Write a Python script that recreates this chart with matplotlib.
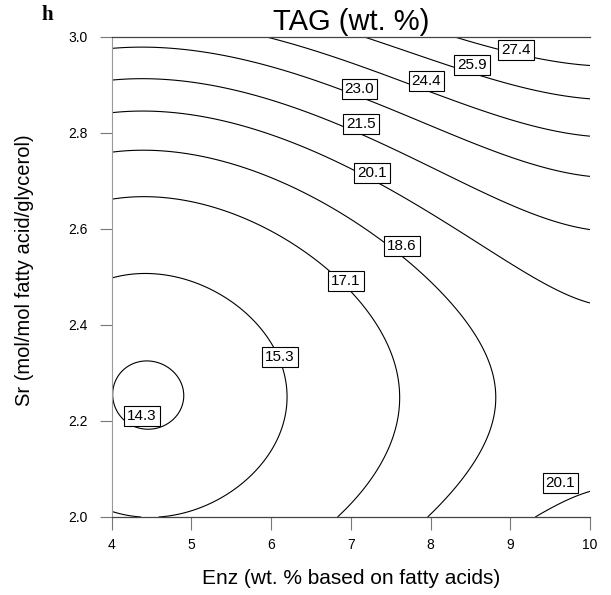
import numpy as np
import matplotlib.pyplot as plt

# contour levels shown on the chart
tag_levels = [14.3, 15.3, 17.1, 18.6, 20.1, 21.5, 23.0, 24.4, 25.9, 27.4]

# points (Enz, Sr, TAG level)
pts_enz = [4.03, 4.44, 4.885, 4.44,
           4.0, 4.44, 5.15, 5.69, 6.0, 6.18, 6.06, 5.81, 5.44, 4.815, 4.08,
           4.0, 4.40, 4.90, 5.23, 5.65, 6.36, 6.77, 7.0, 7.40, 7.61, 7.64, 7.61, 7.36, 7.11, 6.88,
           4.0, 4.75, 5.11, 5.61, 6.19, 6.77, 7.07, 7.69, 8.11, 8.52, 8.77, 8.82, 8.77, 8.52, 8.23, 7.96,
           4.0, 4.81, 5.19, 5.65, 6.11, 6.56, 7.02, 7.34, 7.90, 8.27, 8.94, 9.36, 9.98, 9.36, 9.77, 9.98,
           4.81, 5.23, 5.94, 6.90, 7.19, 7.90, 8.73, 9.36, 9.98,
           4.0, 4.67, 5.23, 5.94, 6.90, 7.19, 7.90, 8.73, 9.36, 9.98,
           6.06, 7.11, 7.69, 8.11, 8.73, 9.36, 9.98,
           7.19, 8.32, 8.65, 9.36, 9.98,
           8.32, 8.81, 9.27, 9.77]
pts_sr = [2.266, 2.322, 2.266, 2.183,
          2.498, 2.509, 2.48, 2.426, 2.363, 2.266, 2.169, 2.093, 2.044, 2.006, 2.008,
          2.665, 2.674, 2.665, 2.651, 2.623, 2.564, 2.516, 2.47, 2.39, 2.308, 2.26, 2.197, 2.106, 2.051, 2.006,
          2.76, 2.765, 2.755, 2.727, 2.689, 2.637, 2.613, 2.54, 2.467, 2.384, 2.308, 2.259, 2.204, 2.113, 2.051, 2.006,
          2.842, 2.843, 2.831, 2.813, 2.786, 2.752, 2.724, 2.696, 2.64, 2.60, 2.537, 2.488, 2.446, 2.006, 2.037, 2.051,
          2.911, 2.897, 2.866, 2.817, 2.797, 2.731, 2.668, 2.637, 2.606,
          2.974, 2.977, 2.967, 2.939, 2.887, 2.869, 2.814, 2.759, 2.731, 2.71,
          2.998, 2.946, 2.911, 2.89, 2.849, 2.814, 2.793,
          2.998, 2.942, 2.922, 2.887, 2.87,
          2.998, 2.97, 2.953, 2.942]
pts_tag = [14.3] * 4 + [15.3] * 11 + [17.1] * 15 + [18.6] * 16 + [20.1] * 16 \
          + [21.5] * 9 + [23.0] * 10 + [24.4] * 7 + [25.9] * 5 + [27.4] * 4

# where the boxed labels sit
label_pos = [(4.38, 2.21), (6.11, 2.334), (6.94, 2.491), (7.64, 2.564),
             (7.27, 2.717), (9.63, 2.07), (7.13, 2.819), (7.11, 2.892),
             (7.95, 2.908), (8.52, 2.942), (9.07, 2.972)]

plt.rcParams['font.family'] = ['Liberation Sans', 'DejaVu Sans']


def basis(x, y):
    u = (np.asarray(x) - 7.0) / 3.0
    v = (np.asarray(y) - 2.5) / 0.5
    return np.stack([np.ones_like(u), u, v, u * u, u * v, v * v,
                     u ** 3, u * u * v, u * v * v, v ** 3, u ** 4, v ** 4], axis=-1)


# response surface fitted to the contour readings (inner rings count more)
tag = np.array(pts_tag)
sr = np.array(pts_sr)
w = np.where(tag < 15, 3.0, np.where(tag < 16, 2.0, 1.0))
w = np.where((tag < 16) & (sr < 2.05), 5.0, w)
coef, *_ = np.linalg.lstsq(basis(pts_enz, pts_sr) * w[:, None], tag * w, rcond=None)

xg = np.linspace(4, 10, 300)
yg = np.linspace(2, 3, 300)
X, Y = np.meshgrid(xg, yg)
Z = basis(X, Y) @ coef

fig = plt.figure(figsize=(6.11, 5.95), dpi=100)
ax = fig.add_axes([111.5 / 611, 1 - 517 / 595, (590 - 111.5) / 611, (517 - 37) / 595])

cs = ax.contour(X, Y, Z, levels=tag_levels, colors='black', linewidths=0.8)
ax.clabel(cs, fmt=lambda v: f'{v:.1f}', fontsize=11, inline=False, manual=label_pos)
for t, pos in zip(cs.labelTexts, label_pos):
    t.set_position(pos)
    t.set_rotation(0)
    t.set_zorder(5)
    t.set_bbox(dict(boxstyle='square,pad=0.2', fc='white', ec='black', lw=0.8))

ax.set_xlim(4, 10)
ax.set_ylim(2, 3)
ax.set_xticks(range(4, 11))
ax.set_yticks(np.arange(2.0, 3.01, 0.2))
ax.set_yticklabels([f'{v:.1f}' for v in np.arange(2.0, 3.01, 0.2)])
ax.tick_params(direction='out', length=9, width=0.8, color='#777777', labelsize=10)
ax.tick_params(axis='x', pad=6)
ax.tick_params(axis='y', pad=8)
for s in ['top', 'bottom']:
    ax.spines[s].set_color('#444444')
    ax.spines[s].set_linewidth(0.9)
ax.spines['left'].set_color('#999999')
ax.spines['right'].set_visible(False)

ax.set_xlabel('Enz (wt. % based on fatty acids)', fontsize=15)
ax.xaxis.set_label_coords(0.5, -(578 - 517) / 480)
ax.set_ylabel('Sr (mol/mol fatty acid/glycerol)', fontsize=14.5)
ax.yaxis.set_label_coords(-(111.5 - 25) / 478.5, (517 - 270) / 480)
ax.xaxis.label.set_va('center')
ax.yaxis.label.set_va('center')
ax.set_title('TAG (wt. %)', fontsize=21, pad=5)
fig.text(47 / 611, 1 - 15 / 595, 'h', fontsize=15, fontweight='bold',
         family='Liberation Serif', ha='center', va='center')

fig.savefig('out.png', dpi=100)
